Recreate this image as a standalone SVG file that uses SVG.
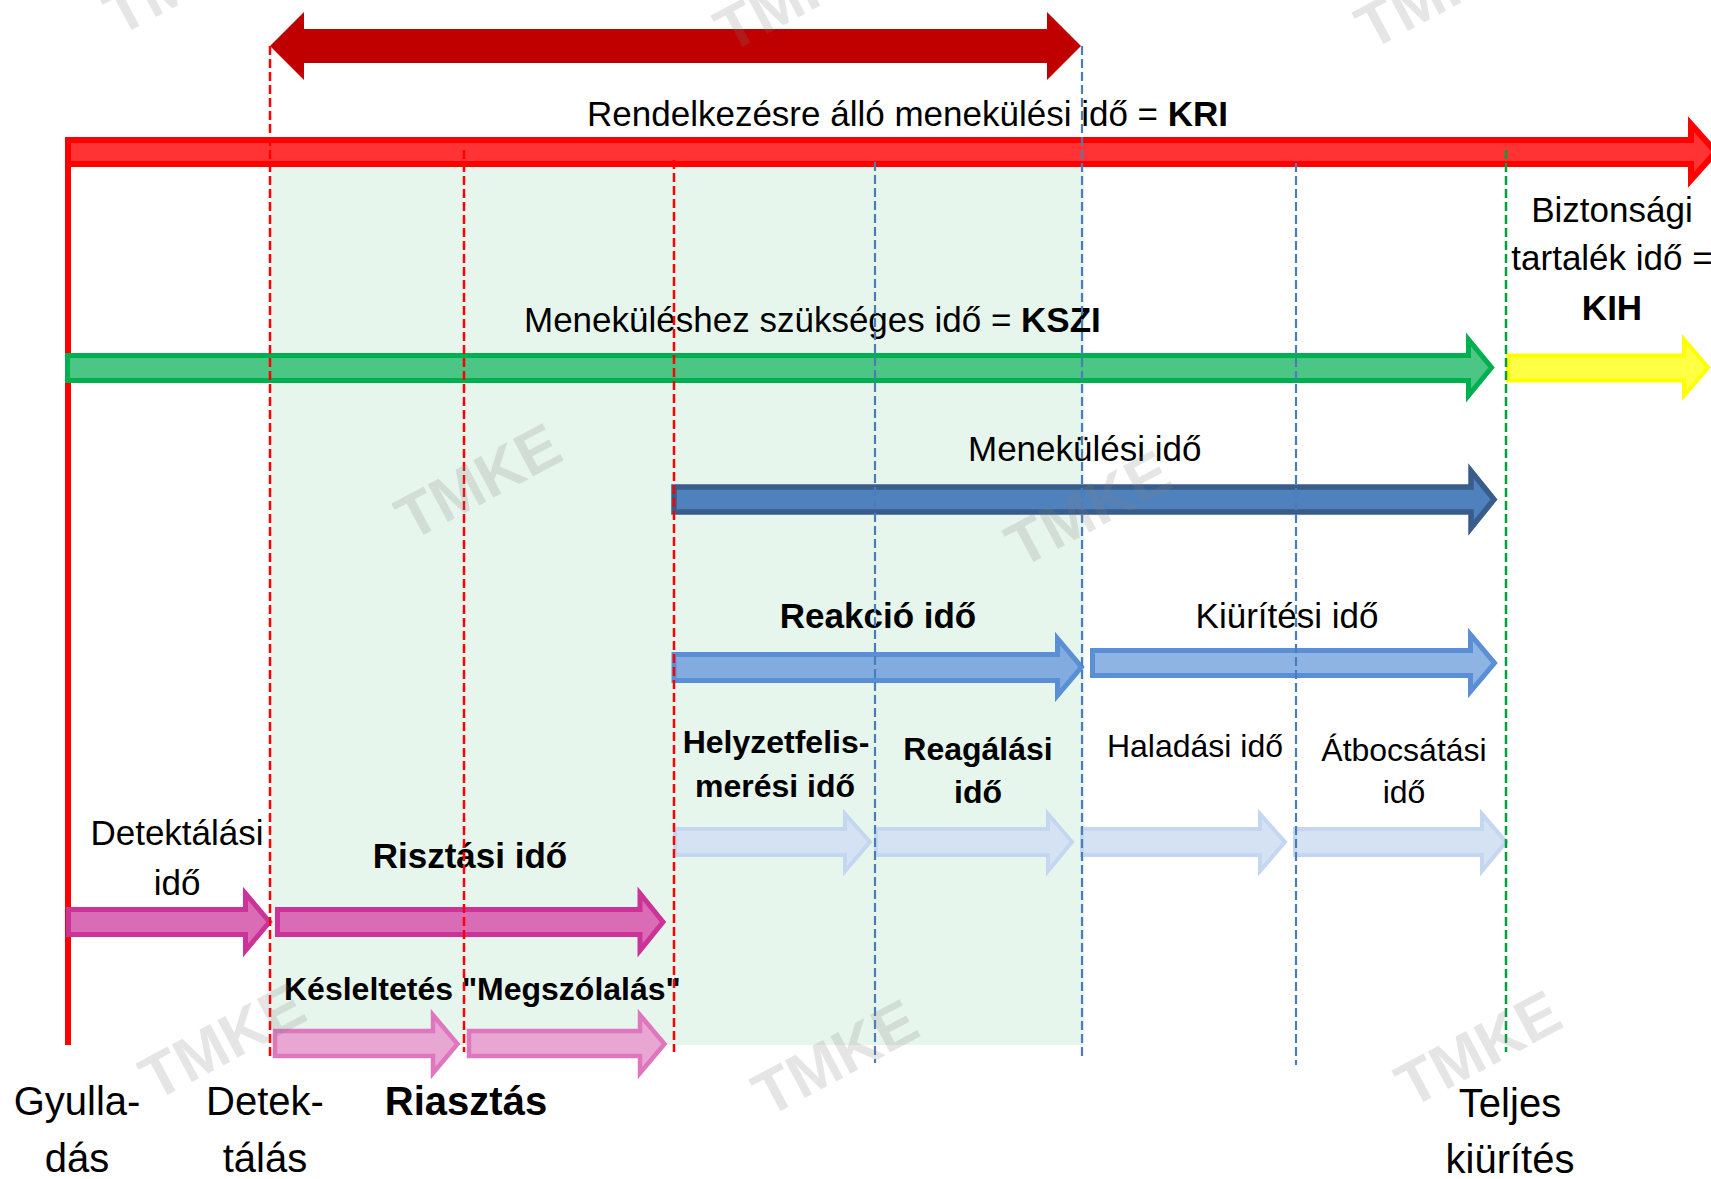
<svg xmlns="http://www.w3.org/2000/svg" width="1711" height="1179" viewBox="0 0 1711 1179">
<style>
text{font-family:"Liberation Sans",Arial,sans-serif;fill:#000}
.r35{font-size:35px}
.b35{font-size:35px;font-weight:bold}
.r32{font-size:32px}
.b32{font-size:32px;font-weight:bold}
.r40{font-size:40px}
.b40{font-size:40px;font-weight:bold}
.mid{text-anchor:middle}
.dr{stroke:#FF0000;stroke-width:2.5;stroke-dasharray:9 4;fill:none}
.db{stroke:#4A7EBB;stroke-width:2.2;stroke-dasharray:9 4;fill:none}
.dg{stroke:#00A03C;stroke-width:2.5;stroke-dasharray:9 4;fill:none}
.mag{fill:#D96CB4;stroke:#CC3399;stroke-width:5;stroke-linejoin:miter}
.pink{fill:#E8A6D3;stroke:#DE77BE;stroke-width:4.5}
.pale{fill:#D5E2F4;stroke:#C4D6F0;stroke-width:4}
.lb{fill:#82ACE0;stroke:#5A8FD6;stroke-width:5}
.wm{font-family:"Liberation Sans",Arial,sans-serif;font-size:62px;font-weight:bold;fill:#7F7F7F;fill-opacity:0.2;text-anchor:middle}
</style>
<rect width="1711" height="1179" fill="#FFFFFF"/>
<rect id="zone" x="271" y="167" width="813" height="878" fill="#E7F6EC"/>
<rect id="timeline-origin" x="65" y="137" width="6" height="908" fill="#FF0000"/>

<g id="kri-span">
<path d="M270,46 L304,12 V29 H1047 V12 L1081,46 L1047,80 V63 H304 V80 Z" fill="#C00000"/>
</g>
<g id="kri">
<path d="M68,140 H1691 V124 L1716,152 L1691,180 V164 H68 Z" fill="#FF3333" stroke="#FF0000" stroke-width="6"/>
<text class="r35" x="587" y="126">Rendelkezésre álló menekülési idő = <tspan font-weight="bold">KRI</tspan></text>
</g>
<g id="kszi">
<path d="M67.5,355.5 H1468.5 V339.5 L1491.5,367.5 L1468.5,395.5 V380.5 H67.5 Z" fill="#4CC685" stroke="#00B050" stroke-width="5"/>
<text class="r35" x="524" y="332">Meneküléshez szükséges idő = <tspan font-weight="bold">KSZI</tspan></text>
</g>
<g id="kih">
<path d="M1508,355.5 H1684 V339.5 L1708,367.5 L1684,395.5 V380.5 H1508 Z" fill="#FFFF44" stroke="#FFFF00" stroke-width="4"/>
<text class="r35 mid" x="1612" y="222">Biztonsági</text>
<text class="r35 mid" x="1612" y="270">tartalék idő =</text>
<text class="b35 mid" x="1612" y="320">KIH</text>
</g>
<g id="menekulesi">
<path d="M674,487 H1471 V471 L1494,499.5 L1471,528 V512 H674 Z" fill="#4F81BD" stroke="#385D8A" stroke-width="5.5"/>
<text class="r35" x="968" y="461">Menekülési idő</text>
</g>
<g id="reakcio">
<path class="lb" d="M674,654.5 H1057.5 V638.5 L1081.5,667 L1057.5,695.5 V680.5 H674 Z"/>
<text class="b35 mid" x="878" y="628">Reakció idő</text>
</g>
<g id="kiuritesi">
<path d="M1092.5,650.5 H1470.5 V634.5 L1494.5,663 L1470.5,691.5 V675.5 H1092.5 Z" fill="#8DB4E3" stroke="#5A8FD6" stroke-width="5"/>
<text class="r35 mid" x="1287" y="628">Kiürítési idő</text>
</g>
<g id="helyzetfelismeresi">
<path class="pale" d="M675,829 H845 V814 L870,842 L845,871 V855 H675 Z"/>
<text class="b32 mid" x="776" y="753">Helyzetfelis-</text>
<text class="b32 mid" x="775" y="797">merési idő</text>
</g>
<g id="reagalasi">
<path class="pale" d="M876,829 H1048 V814 L1072,842 L1048,871 V855 H876 Z" fill="#CDDCEF"/>
<text class="b32 mid" x="978" y="760">Reagálási</text>
<text class="b32 mid" x="978" y="803">idő</text>
</g>
<g id="haladasi">
<path class="pale" d="M1082,829 H1260 V814 L1285,842 L1260,871 V855 H1082 Z"/>
<text class="r32 mid" x="1195" y="757">Haladási idő</text>
</g>
<g id="atbocsatasi">
<path class="pale" d="M1295,829 H1482 V814 L1506,842 L1482,871 V855 H1295 Z"/>
<text class="r32 mid" x="1404" y="761">Átbocsátási</text>
<text class="r32 mid" x="1404" y="803">idő</text>
</g>
<g id="detektalasi">
<path class="mag" d="M68.5,909.5 H245.5 V893.5 L269.5,922 L245.5,950.5 V934.5 H68.5 Z"/>
<text class="r35 mid" x="177" y="845">Detektálási</text>
<text class="r35 mid" x="177" y="895">idő</text>
</g>
<g id="risztasi">
<path class="mag" d="M277.5,909.5 H640 V893.5 L663,922 L640,950.5 V934.5 H277.5 Z" fill="#D46BB0"/>
<text class="b35 mid" x="470" y="868">Risztási idő</text>
</g>
<g id="kesleltetes">
<path class="pink" d="M275,1031 H433 V1015 L457.5,1044 L433,1073 V1056 H275 Z"/>
<text class="b32" x="284" y="1000">Késleltetés "Megszólalás"</text>
</g>
<g id="megszolalas">
<path class="pink" d="M469,1031 H640 V1015 L664.5,1044 L640,1073 V1056 H469 Z"/>
</g>

<g id="connectors">
<line class="dr" x1="270" y1="46" x2="270" y2="1058"/>
<line class="dr" x1="464" y1="150" x2="464" y2="1052"/>
<line class="dr" x1="674" y1="160" x2="674" y2="1052"/>
<line class="db" x1="875" y1="162" x2="875" y2="1063"/>
<line class="db" x1="1082" y1="46" x2="1082" y2="1058"/>
<line class="db" x1="1296" y1="163" x2="1296" y2="1065"/>
<line class="dg" x1="1506" y1="150" x2="1506" y2="1052"/>
</g>

<g id="ignition">
<text class="r40 mid" x="77" y="1115">Gyulla-</text>
<text class="r40 mid" x="77" y="1172">dás</text>
</g>
<g id="detection">
<text class="r40 mid" x="265" y="1115">Detek-</text>
<text class="r40 mid" x="265" y="1172">tálás</text>
</g>
<g id="alarm">
<text class="b40 mid" x="466" y="1115">Riasztás</text>
</g>
<g id="full-evacuation">
<text class="r40 mid" x="1510" y="1117">Teljes</text>
<text class="r40 mid" x="1510" y="1173">kiürítés</text>
</g>

<g id="watermarks">
<text class="wm" transform="translate(186,-24) rotate(-28)" x="0" y="22">TMKE</text>
<text class="wm" transform="translate(797,-7) rotate(-28)" x="0" y="22">TMKE</text>
<text class="wm" transform="translate(1438,-10) rotate(-28)" x="0" y="22">TMKE</text>
<text class="wm" transform="translate(478,481) rotate(-28)" x="0" y="22">TMKE</text>
<text class="wm" transform="translate(1088,508) rotate(-28)" x="0" y="22">TMKE</text>
<text class="wm" transform="translate(222,1041) rotate(-28)" x="0" y="22">TMKE</text>
<text class="wm" transform="translate(835,1057) rotate(-28)" x="0" y="22">TMKE</text>
<text class="wm" transform="translate(1478,1048) rotate(-28)" x="0" y="22">TMKE</text>
</g>
</svg>
